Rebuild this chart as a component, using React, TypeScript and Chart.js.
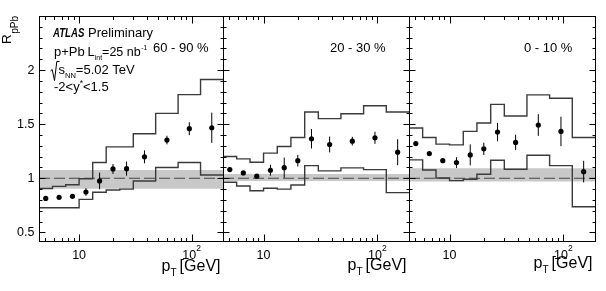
import React, { useEffect, useRef } from 'react';
import { Chart, registerables } from 'chart.js';

Chart.register(...registerables);

const FONT = "'Liberation Sans', Arial, Helvetica, sans-serif";

// ---------- axis ranges & tick labels ----------
const X_MIN = 4.4;
const X_MAX = 190;
const Y_MIN = 0.42;
const Y_MAX = 2.5;

const yTickValues = [0.5, 1, 1.5, 2];
const yTickLabels = ['0.5', '1', '1.5', '2'];
const xTickValues = [10, 100];
const xTickBase = ['10', '10'];
const xTickExp = ['', '2'];

// ---------- data ----------
const binEdges = [4.4, 5.8, 7.6, 10, 13.2, 17.4, 23, 30.3, 47.9, 75.8, 120, 190];
const binCenters = [5.05, 6.64, 8.72, 11.5, 15.2, 20.0, 26.4, 38.1, 60.3, 95.4, 151];

const centralityLabels = ['60 - 90 %', '20 - 30 %', '0 - 10 %'];

// 60 - 90 %
const rpPb6090 = [0.814, 0.824, 0.833, 0.873, 0.975, 1.086, 1.089, 1.198, 1.353, 1.458, 1.467];
const stat6090 = [0.01, 0.01, 0.01, 0.035, 0.077, 0.046, 0.065, 0.06, 0.04, 0.06, 0.14];
const sysHi6090 = [0.905, 0.925, 0.94, 0.995, 1.145, 1.29, 1.29, 1.411, 1.6, 1.773, 1.913];
const sysLo6090 = [0.727, 0.727, 0.727, 0.805, 0.87, 0.891, 0.9, 0.975, 1.1, 1.145, 1.03];
const norm6090 = [0.903, 1.077];

// 20 - 30 %
const rpPb2030 = [1.08, 1.049, 1.019, 1.074, 1.098, 1.163, 1.365, 1.312, 1.343, 1.374, 1.241];
const stat2030 = [0.01, 0.01, 0.015, 0.05, 0.093, 0.054, 0.09, 0.073, 0.04, 0.056, 0.12];
const sysHi2030 = [1.201, 1.179, 1.148, 1.232, 1.294, 1.377, 1.613, 1.551, 1.597, 1.671, 1.613];
const sysLo2030 = [0.963, 0.929, 0.885, 0.907, 0.9, 0.938, 1.117, 1.068, 1.096, 1.08, 0.867];
const norm2030 = [0.975, 1.04];

// 0 - 10 %
const rpPb0010 = [1.321, 1.228, 1.163, 1.145, 1.216, 1.272, 1.427, 1.331, 1.492, 1.433, 1.061];
const stat0010 = [0.01, 0.01, 0.02, 0.05, 0.097, 0.057, 0.085, 0.071, 0.1, 0.136, 0.1];
const sysHi0010 = [1.464, 1.377, 1.316, 1.309, 1.433, 1.511, 1.683, 1.576, 1.771, 1.739, 1.377];
const sysLo0010 = [1.17, 1.077, 1.003, 0.978, 0.991, 1.037, 1.167, 1.083, 1.213, 1.117, 0.736];
const norm0010 = [0.97, 1.093];

// ---------- layout ----------
const W = 606;
const H = 291;
const TOP = 16;
const BOTTOM = 241;

type PanelCfg = {
  label: string;
  values: number[];
  stat: number[];
  sysHi: number[];
  sysLo: number[];
  band: number[];
  left: number;
  right: number;
  labelX: number;
  labelY: number;
  xTitleY: number;
  first: boolean;
};

const panels: PanelCfg[] = [
  { label: centralityLabels[0], values: rpPb6090, stat: stat6090, sysHi: sysHi6090, sysLo: sysLo6090, band: norm6090, left: 39, right: 223, labelX: 153, labelY: 52, xTitleY: 271, first: true },
  { label: centralityLabels[1], values: rpPb2030, stat: stat2030, sysHi: sysHi2030, sysLo: sysLo2030, band: norm2030, left: 223, right: 409, labelX: 330, labelY: 52, xTitleY: 269.5, first: false },
  { label: centralityLabels[2], values: rpPb0010, stat: stat0010, sysHi: sysHi0010, sysLo: sysLo0010, band: norm0010, left: 409, right: 595, labelX: 524, labelY: 52, xTitleY: 268, first: false },
];

type Seg = { t: string; size: number; dy?: number; style?: string; gap?: number };

function setFont(ctx: CanvasRenderingContext2D, size: number, style?: string) {
  ctx.font = `${style ? style + ' ' : ''}${size}px ${FONT}`;
}

function segsWidth(ctx: CanvasRenderingContext2D, segs: Seg[]) {
  let w = 0;
  for (const s of segs) {
    setFont(ctx, s.size, s.style);
    w += (s.gap || 0) + ctx.measureText(s.t).width;
  }
  return w;
}

function drawSegs(ctx: CanvasRenderingContext2D, segs: Seg[], x: number, y: number) {
  let cx = x;
  ctx.textAlign = 'left';
  ctx.textBaseline = 'alphabetic';
  for (const s of segs) {
    cx += s.gap || 0;
    setFont(ctx, s.size, s.style);
    ctx.fillText(s.t, cx, y + (s.dy || 0));
    cx += ctx.measureText(s.t).width;
  }
  return cx;
}

function stepData(edges: number[], vals: number[]) {
  const pts = vals.map((v, i) => ({ x: edges[i], y: v }));
  pts.push({ x: edges[edges.length - 1], y: vals[vals.length - 1] });
  return pts;
}

function makePlugin(cfg: PanelCfg) {
  return {
    id: 'atlasPanel',
    afterDatasetsDraw(chart: any) {
      const { ctx, chartArea: ca } = chart;
      const xs = chart.scales.x;
      const ys = chart.scales.y;
      ctx.save();
      ctx.beginPath();
      ctx.rect(ca.left, ca.top, ca.right - ca.left, ca.bottom - ca.top);
      ctx.clip();
      ctx.strokeStyle = '#000';
      ctx.lineWidth = 1;
      cfg.values.forEach((v, i) => {
        const px = xs.getPixelForValue(binCenters[i]);
        ctx.beginPath();
        ctx.moveTo(px, ys.getPixelForValue(v - cfg.stat[i]));
        ctx.lineTo(px, ys.getPixelForValue(v + cfg.stat[i]));
        ctx.stroke();
      });
      ctx.restore();
    },
    afterDraw(chart: any) {
      const { ctx, chartArea: ca } = chart;
      const xs = chart.scales.x;
      const ys = chart.scales.y;
      ctx.save();
      ctx.fillStyle = '#000';
      ctx.strokeStyle = '#000';
      ctx.lineWidth = 1;
      const L = Math.round(ca.left) + 0.5;
      const R = Math.round(ca.right) + 0.5;
      const T = Math.round(ca.top) + 0.5;
      const B = Math.round(ca.bottom) + 0.5;
      ctx.strokeRect(L, T, R - L, B - T);

      // y ticks (inside, both sides)
      ctx.beginPath();
      for (let k = 5; k <= 24; k++) {
        const v = k / 10;
        const py = Math.round(ys.getPixelForValue(v)) + 0.5;
        const len = k % 5 === 0 ? 6 : 3;
        ctx.moveTo(L, py); ctx.lineTo(L + len, py);
        ctx.moveTo(R, py); ctx.lineTo(R - len, py);
      }
      // x ticks (inside, top & bottom)
      for (const dec of [1, 10, 100]) {
        for (let m = 1; m <= 9; m++) {
          const v = m * dec;
          if (v <= X_MIN || v >= X_MAX) continue;
          const px = Math.round(xs.getPixelForValue(v)) + 0.5;
          const len = m === 1 ? 7 : 3.5;
          ctx.moveTo(px, B); ctx.lineTo(px, B - len);
          ctx.moveTo(px, T); ctx.lineTo(px, T + len);
        }
      }
      ctx.stroke();

      // x tick labels
      xTickValues.forEach((v, i) => {
        const px = xs.getPixelForValue(v);
        const segs: Seg[] = [{ t: xTickBase[i], size: 12.5 }];
        if (xTickExp[i]) segs.push({ t: xTickExp[i], size: 8.5, dy: -7.5 });
        const w = segsWidth(ctx, segs);
        drawSegs(ctx, segs, px - w / 2, 258.5);
      });

      // x title
      const xt: Seg[] = [
        { t: 'p', size: 16 },
        { t: 'T', size: 10, dy: 5 },
        { t: '[GeV]', size: 16, gap: 3 },
      ];
      const xw = segsWidth(ctx, xt);
      drawSegs(ctx, xt, ca.right - 2.5 - xw, cfg.xTitleY);

      // centrality label
      drawSegs(ctx, [{ t: cfg.label, size: 13 }], cfg.labelX, cfg.labelY);

      if (cfg.first) {
        // y tick labels
        ctx.textAlign = 'right';
        ctx.textBaseline = 'middle';
        setFont(ctx, 12.5);
        yTickValues.forEach((v, i) => {
          ctx.fillText(yTickLabels[i], 34.5, ys.getPixelForValue(v) + 0.5);
        });

        // y title R_pPb
        ctx.save();
        ctx.translate(10.5, 44);
        ctx.rotate(-Math.PI / 2);
        drawSegs(ctx, [{ t: 'R', size: 13.5 }, { t: 'pPb', size: 10, dy: 7, gap: 0.5 }], 0, 0);
        ctx.restore();

        // ATLAS Preliminary
        const b1 = 36.5;
        ctx.save();
        ctx.translate(53, b1);
        ctx.scale(0.74, 1);
        drawSegs(ctx, [{ t: 'ATLAS', size: 13, style: 'italic bold' }], 0, 0);
        ctx.restore();
        drawSegs(ctx, [{ t: 'Preliminary', size: 13 }], 88, b1);

        // p+Pb L_int = 25 nb^-1
        const b2 = 56;
        drawSegs(ctx, [{ t: 'p+Pb', size: 13 }], 54, b2);
        drawSegs(ctx, [
          { t: 'L', size: 13 },
          { t: 'int', size: 7, dy: 4 },
          { t: '=25 nb', size: 12.5 },
          { t: '-1', size: 7, dy: -6, gap: 0.5 },
        ], 87.5, b2);

        // sqrt(s_NN) = 5.02 TeV
        const b3 = 74;
        ctx.beginPath();
        ctx.lineWidth = 1;
        ctx.moveTo(50.5, b3 - 3);
        ctx.lineTo(52.2, b3 - 4.5);
        ctx.lineTo(54.5, b3 + 6.5);
        ctx.lineTo(56.8, b3 - 12.5);
        ctx.lineTo(59.5, b3 - 12.5);
        ctx.stroke();
        drawSegs(ctx, [
          { t: 's', size: 13 },
          { t: 'NN', size: 7.5, dy: 4 },
          { t: '=5.02 TeV', size: 13 },
        ], 58.5, b3);

        // rapidity range
        const b4 = 90.5;
        drawSegs(ctx, [
          { t: '-2<y', size: 13 },
          { t: '*', size: 8.5, dy: -5 },
          { t: '<1.5', size: 13 },
        ], 54, b4);
      }
      ctx.restore();
    },
  };
}

function PanelChart({ cfg }: { cfg: PanelCfg }) {
  const ref = useRef<HTMLCanvasElement>(null);
  useEffect(() => {
    const canvas = ref.current;
    if (!canvas) return;
    const chart = new Chart(canvas, {
      type: 'line',
      data: {
        datasets: [
          {
            data: [{ x: X_MIN, y: cfg.band[1] }, { x: X_MAX, y: cfg.band[1] }],
            borderColor: 'rgba(0,0,0,0)',
            borderWidth: 0,
            backgroundColor: '#c8c8c8',
            fill: '+1',
            pointRadius: 0,
            order: 10,
          },
          {
            data: [{ x: X_MIN, y: cfg.band[0] }, { x: X_MAX, y: cfg.band[0] }],
            borderColor: 'rgba(0,0,0,0)',
            borderWidth: 0,
            fill: false,
            pointRadius: 0,
            order: 9,
          },
          {
            data: [{ x: X_MIN, y: 1 }, { x: X_MAX, y: 1 }],
            borderColor: '#444',
            borderWidth: 1,
            borderDash: [11, 4],
            fill: false,
            pointRadius: 0,
            order: 8,
          },
          {
            data: stepData(binEdges, cfg.sysHi),
            stepped: 'before',
            borderColor: '#3a3a3a',
            borderWidth: 1.4,
            fill: false,
            pointRadius: 0,
            order: 5,
          },
          {
            data: stepData(binEdges, cfg.sysLo),
            stepped: 'before',
            borderColor: '#3a3a3a',
            borderWidth: 1.4,
            fill: false,
            pointRadius: 0,
            order: 4,
          },
          {
            data: binCenters.map((x, i) => ({ x, y: cfg.values[i] })),
            showLine: false,
            pointRadius: 2.6,
            pointBackgroundColor: '#000',
            pointBorderColor: '#000',
            pointBorderWidth: 0,
            order: 1,
          },
        ],
      } as any,
      options: {
        responsive: false,
        maintainAspectRatio: false,
        animation: false,
        devicePixelRatio: 1,
        events: [],
        layout: {
          padding: { left: cfg.left, right: W - cfg.right, top: TOP, bottom: H - BOTTOM },
        },
        plugins: {
          legend: { display: false },
          tooltip: { enabled: false },
        },
        scales: {
          x: { type: 'logarithmic', min: X_MIN, max: X_MAX, display: false, bounds: 'data' },
          y: { type: 'linear', min: Y_MIN, max: Y_MAX, display: false, bounds: 'data' },
        },
      } as any,
      plugins: [makePlugin(cfg)],
    });
    return () => chart.destroy();
  }, [cfg]);
  return (
    <canvas
      ref={ref}
      width={W}
      height={H}
      style={{ position: 'absolute', left: 0, top: 0, width: W, height: H }}
    />
  );
}

export default function App() {
  return (
    <div style={{ position: 'fixed', left: 0, top: 0, width: W, height: H, background: '#fff', overflow: 'hidden' }}>
      {panels.map((p, i) => (
        <PanelChart key={i} cfg={p} />
      ))}
    </div>
  );
}
